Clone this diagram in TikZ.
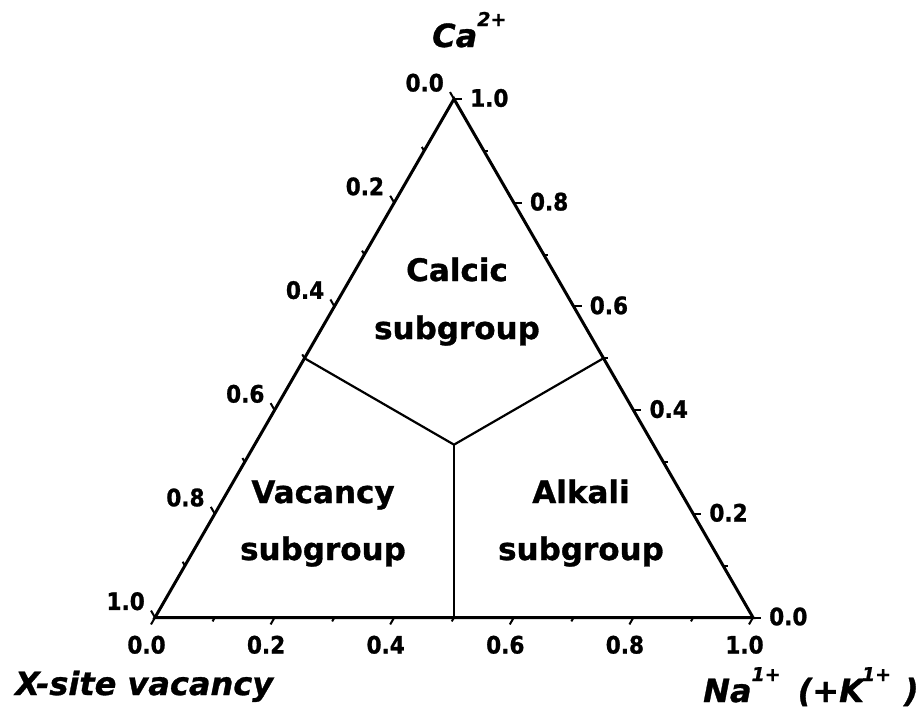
\documentclass[tikz,border=0pt]{standalone}
\usepackage{fontspec}
\setmainfont{DejaVu Sans}[BoldFeatures={FakeBold=1}, BoldItalicFeatures={FakeBold=1}]
\newfontfamily\condf{DejaVu Sans Condensed}[BoldFeatures={FakeBold=1}]
\usetikzlibrary{calc}
\tikzset{
  frame/.style={line width=3pt, line join=miter},
  divider/.style={line width=2.2pt},
  tickmark/.style={line width=2pt},
  ticklab/.style={inner sep=0pt, font=\condf\bfseries\fontsize{24}{28}\selectfont},
  region/.style={inner sep=0pt, anchor=base, font=\bfseries\fontsize{31}{36}\selectfont},
  axtitle/.style={inner sep=0pt, anchor=base west, font=\bfseries\itshape\fontsize{32}{38}\selectfont},
}
\newcommand{\supx}[1]{\raisebox{21pt}{\fontsize{19}{21}\selectfont #1}}
\begin{document}
\begin{tikzpicture}[x=1pt,y=-1pt]
\useasboundingbox (0,0) rectangle (922,715);
\fill[white] (0,0) rectangle (922,715);
% vertices
\coordinate (A) at (155,617.5);
\coordinate (B) at (753,617.5);
\coordinate (C) at (454,99);
\coordinate (mAC) at ($(A)!0.5!(C)$);
\coordinate (mBC) at ($(B)!0.5!(C)$);
\coordinate (mAB) at ($(A)!0.5!(B)$);
\coordinate (G) at ($(A)!0.5!(B)!1/3!(C)$);
% dividers
\draw[divider] (mAC) -- (G) -- (mBC);
\draw[divider] (G) -- (mAB);
% ticks
\foreach \i in {0,...,10} {
  \pgfmathsetmacro\tt{\i/10}
  \ifodd\i \def\L{4.5}\else \def\L{8}\fi
  \draw[tickmark] ($(A)!\tt!(B)$) -- ++(-0.5*\L,0.866*\L);
  \draw[tickmark] ($(B)!\tt!(C)$) -- ++(\L,0);
  \draw[tickmark] ($(C)!\tt!(A)$) -- ++(-0.5*\L,-0.866*\L);
}
% frame
\draw[frame] (A) -- (B) -- (C) -- cycle;
% tick labels
\foreach \tt/\lab [count=\k] in {0/0.0,0.2/0.2,0.4/0.4,0.6/0.6,0.8/0.8,1/1.0} {
  \node[ticklab, anchor=north] (bot\k) at ($(A)!\tt!(B)+(-8.5,18)$) {\lab};
  \node[ticklab, anchor=west] (rgt\k) at ($(B)!\tt!(C)+(16,-1)$) {\lab};
  \node[ticklab, anchor=south east] (lft\k) at ($(C)!\tt!(A)+(-10,-7)$) {\lab};
}
% region labels
\node[region] (calc1) at (457,281) {Calcic};
\node[region] (calc2) at (457,339) {subgroup};
\node[region] (vac1) at (323,503) {Vacancy};
\node[region] (vac2) at (323,560) {subgroup};
\node[region] (alk1) at (581,503) {Alkali};
\node[region] (alk2) at (581,560) {subgroup};
% axis titles
\node[axtitle] (tCa) at (432,47) {Ca\supx{2+}};
\node[axtitle] (tX) at (15,695) {X-site vacancy};
\node[axtitle] (tNa) at (703,702) {Na\supx{1+}\hspace{17pt}(+K\kern-2pt\supx{1+}\hspace{13pt})};
\end{tikzpicture}
\end{document}
